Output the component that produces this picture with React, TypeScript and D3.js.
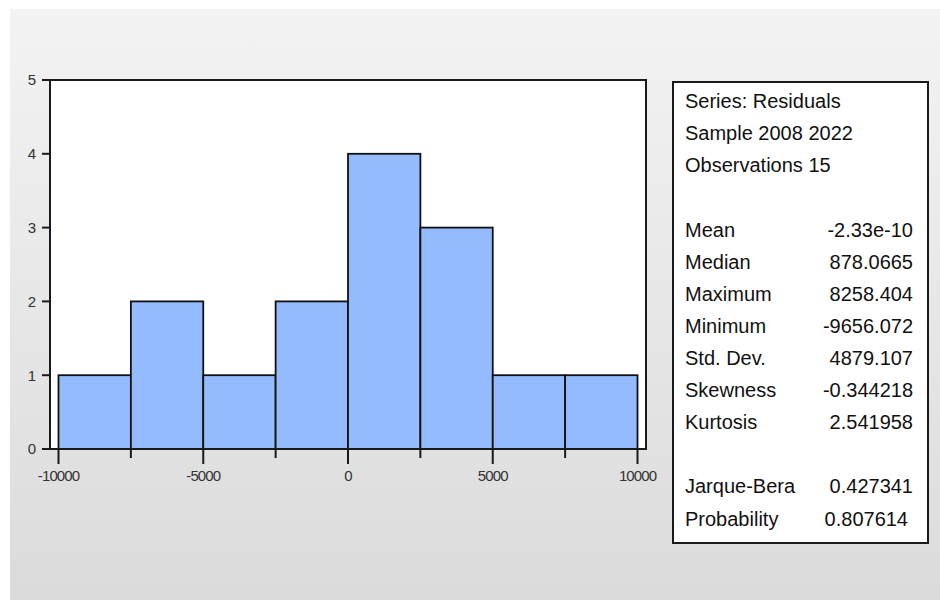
import * as d3 from 'd3';

// histogram of residuals, bins of 2500
const binStarts = [-10000, -7500, -5000, -2500, 0, 2500, 5000, 7500];
const binWidth = 2500;
const counts = [1, 2, 1, 2, 4, 3, 1, 1];

const xMajorTicks = [-10000, -5000, 0, 5000, 10000];
const xMinorTicks = [-7500, -2500, 2500, 7500];
const yTicks = [0, 1, 2, 3, 4, 5];

const headerLines = ['Series: Residuals', 'Sample 2008 2022', 'Observations 15'];
const statLabels = ['Mean', 'Median', 'Maximum', 'Minimum', 'Std. Dev.', 'Skewness', 'Kurtosis'];
const statValues = ['-2.33e-10', '878.0665', '8258.404', '-9656.072', '4879.107', '-0.344218', '2.541958'];
const testLabels = ['Jarque-Bera', 'Probability'];
const testValues = ['0.427341', '0.807614'];

const W = 940;
const H = 600;
const frame = { left: 50, top: 80, right: 646, bottom: 449 };
const box = { left: 673, top: 82, right: 928, bottom: 543 };
const rowH = 32.1;

const x = d3.scaleLinear().domain([-10000, 10000]).range([58.5, 637.5]);
const y = d3.scaleLinear().domain([0, 5]).range([frame.bottom, frame.top]);

const tickFont = '"Liberation Sans", Arial, sans-serif';
const boxFont = '"Liberation Sans", Arial, sans-serif';

export default function App() {
  const firstRow = 101;
  const statsRow0 = firstRow + rowH * 4;
  const testRow0 = statsRow0 + rowH * 8;

  return (
    <svg
      width={W}
      height={H}
      viewBox={`0 0 ${W} ${H}`}
      style={{ position: 'absolute', left: 0, top: 0, display: 'block' }}
    >
      <defs>
        <linearGradient id="bg" x1="0" y1="0" x2="0" y2="1">
          <stop offset="0" stopColor="#f3f3f3" />
          <stop offset="1" stopColor="#dbdbdb" />
        </linearGradient>
      </defs>
      <rect x={0} y={0} width={W} height={H} fill="#ffffff" />
      <rect x={10} y={9} width={W - 10} height={H - 9} fill="url(#bg)" />

      {/* plot frame */}
      <rect
        x={frame.left}
        y={frame.top}
        width={frame.right - frame.left}
        height={frame.bottom - frame.top}
        fill="#ffffff"
        stroke="#1a1a1a"
        strokeWidth={2}
      />

      {/* bars */}
      <g>
        {binStarts.map((b, i) => (
          <rect
            key={b}
            x={x(b)}
            y={y(counts[i])}
            width={x(b + binWidth) - x(b)}
            height={y(0) - y(counts[i])}
            fill="#94bbfe"
            stroke="#111111"
            strokeWidth={1.8}
          />
        ))}
      </g>

      {/* x axis */}
      <line x1={frame.left} x2={frame.right} y1={frame.bottom} y2={frame.bottom} stroke="#1a1a1a" strokeWidth={2} />
      {xMajorTicks.map((t) => (
        <g key={t}>
          <line x1={x(t)} x2={x(t)} y1={frame.bottom} y2={frame.bottom + 15} stroke="#1a1a1a" strokeWidth={2} />
          <text
            x={x(t)}
            y={481}
            textAnchor="middle"
            fontFamily={tickFont}
            fontSize={15}
            letterSpacing={-0.9}
            fill="#333"
          >
            {t}
          </text>
        </g>
      ))}
      {xMinorTicks.map((t) => (
        <line key={t} x1={x(t)} x2={x(t)} y1={frame.bottom} y2={frame.bottom + 9} stroke="#1a1a1a" strokeWidth={2} />
      ))}

      {/* y axis */}
      {yTicks.map((t) => (
        <g key={t}>
          <line x1={frame.left - 8} x2={frame.left} y1={y(t)} y2={y(t)} stroke="#1a1a1a" strokeWidth={2} />
          <text
            x={36}
            y={y(t)}
            dy="0.36em"
            textAnchor="end"
            fontFamily={tickFont}
            fontSize={15}
            fill="#333"
          >
            {t}
          </text>
        </g>
      ))}

      {/* statistics box */}
      <rect
        x={box.left}
        y={box.top}
        width={box.right - box.left}
        height={box.bottom - box.top}
        fill="#ffffff"
        stroke="#1a1a1a"
        strokeWidth={2}
      />
      <g fontFamily={boxFont} fontSize={20} fill="#111">
        {headerLines.map((s, i) => (
          <text key={s} x={685} y={firstRow + i * rowH} dy="0.36em">
            {s}
          </text>
        ))}
        {statLabels.map((s, i) => (
          <g key={s}>
            <text x={685} y={statsRow0 + i * rowH} dy="0.36em">
              {s}
            </text>
            <text x={913} y={statsRow0 + i * rowH} dy="0.36em" textAnchor="end">
              {statValues[i]}
            </text>
          </g>
        ))}
        {testLabels.map((s, i) => (
          <g key={s}>
            <text x={685} y={testRow0 + i * rowH} dy="0.36em">
              {s}
            </text>
            <text x={i === 1 ? 908 : 913} y={testRow0 + i * rowH} dy="0.36em" textAnchor="end">
              {testValues[i]}
            </text>
          </g>
        ))}
      </g>
    </svg>
  );
}
